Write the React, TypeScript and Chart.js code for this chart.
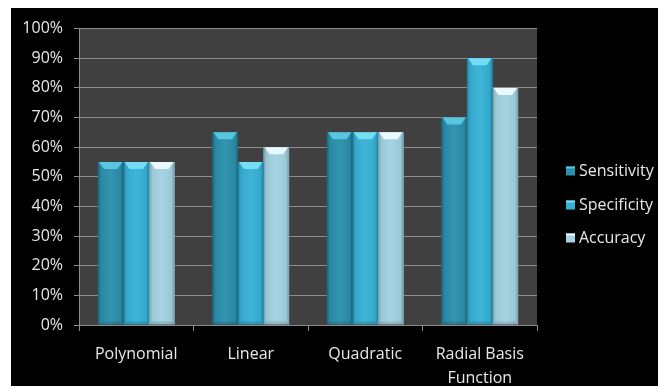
import React, { useEffect, useRef } from "react";
import { Chart, registerables } from "chart.js";

Chart.register(...registerables);

const categories: (string | string[])[] = ["Polynomial", "Linear", "Quadratic", ["Radial Basis", "Function"]];
const sensitivity = [55, 65, 65, 70];
const specificity = [55, 55, 65, 90];
const accuracy = [55, 60, 65, 80];
const seriesNames = ["Sensitivity", "Specificity", "Accuracy"];
const yTicks = [0, 10, 20, 30, 40, 50, 60, 70, 80, 90, 100];

const bodyColors = ["#2b90ad", "#36b1d6", "#a3d2e2"];
const bevelColors = ["#58c6e0", "#74dcf3", "#eaf9fd"];
const edgeColors = ["#1d6a80", "#2789a8", "#7eaec0"];

const FONT = "'Open Sans', 'Noto Sans', sans-serif";
const TEXT = "#e8e8e8";

const plotBg = {
  id: "plotBg",
  beforeDraw(chart: any) {
    const { ctx, chartArea } = chart;
    if (!chartArea) return;
    ctx.save();
    ctx.fillStyle = "#404040";
    ctx.fillRect(chartArea.left, chartArea.top, chartArea.right - chartArea.left, chartArea.bottom - chartArea.top);
    ctx.restore();
  },
};

const barShade = {
  id: "barShade",
  afterDatasetDraw(chart: any, args: any) {
    const { ctx } = chart;
    const idx = args.index;
    const meta = args.meta;
    ctx.save();
    meta.data.forEach((bar: any) => {
      const w = bar.width;
      const l = bar.x - w / 2;
      const r = bar.x + w / 2;
      const t = bar.y;
      const b = bar.base;
      const g = ctx.createLinearGradient(l, 0, r, 0);
      g.addColorStop(0, "rgba(0,0,0,0.28)");
      g.addColorStop(0.12, "rgba(0,0,0,0.05)");
      g.addColorStop(0.5, "rgba(255,255,255,0.04)");
      g.addColorStop(0.88, "rgba(0,0,0,0.05)");
      g.addColorStop(1, "rgba(0,0,0,0.28)");
      ctx.fillStyle = g;
      ctx.fillRect(l, t, w, b - t);
      ctx.fillStyle = edgeColors[idx];
      ctx.fillRect(l, t, 1, b - t);
      ctx.fillRect(r - 1, t, 1, b - t);
      const bh = 7;
      const inset = 6;
      ctx.fillStyle = bevelColors[idx];
      ctx.beginPath();
      ctx.moveTo(l + 1, t);
      ctx.lineTo(r - 1, t);
      ctx.lineTo(r - inset, t + bh);
      ctx.lineTo(l + inset, t + bh);
      ctx.closePath();
      ctx.fill();
      ctx.fillStyle = "rgba(0,0,0,0.12)";
      ctx.beginPath();
      ctx.moveTo(l + 1, b);
      ctx.lineTo(r - 1, b);
      ctx.lineTo(r - 3, b - 3);
      ctx.lineTo(l + 3, b - 3);
      ctx.closePath();
      ctx.fill();
    });
    ctx.restore();
  },
};

const sideLegend = {
  id: "sideLegend",
  afterDraw(chart: any) {
    const { ctx } = chart;
    const x0 = 555;
    const y0 = 163;
    const step = 33.5;
    ctx.save();
    ctx.font = `16px ${FONT}`;
    ctx.textBaseline = "middle";
    ctx.textAlign = "left";
    chart.data.datasets.forEach((ds: any, i: number) => {
      const cy = Math.round(y0 + i * step);
      ctx.fillStyle = bodyColors[i];
      ctx.fillRect(x0, cy - 4.5, 9, 9);
      ctx.fillStyle = bevelColors[i];
      ctx.fillRect(x0, cy - 4.5, 9, 2);
      ctx.fillStyle = TEXT;
      ctx.fillText(ds.label, x0 + 13, cy);
    });
    ctx.restore();
  },
};

export default function App() {
  const canvasRef = useRef<HTMLCanvasElement | null>(null);

  useEffect(() => {
    if (!canvasRef.current) return;
    const data = [sensitivity, specificity, accuracy];
    const chart = new Chart(canvasRef.current, {
      type: "bar",
      data: {
        labels: categories as any,
        datasets: seriesNames.map((name, i) => ({
          label: name,
          data: data[i],
          backgroundColor: bodyColors[i],
          borderWidth: 0,
          barPercentage: 1,
          categoryPercentage: 0.67,
        })),
      },
      options: {
        animation: false,
        responsive: true,
        maintainAspectRatio: false,
        layout: { padding: { top: 14, bottom: 0, left: 0, right: 123 } },
        plugins: {
          tooltip: { enabled: false },
          legend: { display: false },
        },
        scales: {
          x: {
            grid: {
              display: true,
              drawOnChartArea: false,
              drawTicks: true,
              tickLength: 6,
              color: "#8c8c8c",
              offset: true,
            },
            border: { display: true, color: "#8c8c8c", width: 1 },
            ticks: {
              color: TEXT,
              padding: 11,
              maxRotation: 0,
              autoSkip: false,
              font: { family: FONT, size: 16, lineHeight: 1.5 },
            },
            afterFit(scale: any) {
              scale.height = 61;
            },
          },
          y: {
            min: 0,
            max: 100,
            afterBuildTicks(scale: any) {
              scale.ticks = yTicks.map((v) => ({ value: v }));
            },
            grid: {
              color: "#8c8c8c",
              tickLength: 5,
              drawTicks: true,
            },
            border: { display: true, color: "#8c8c8c", width: 1 },
            ticks: {
              color: TEXT,
              padding: 11,
              font: { family: FONT, size: 16 },
              callback: (v: any) => v + "%",
            },
            afterFit(scale: any) {
              scale.width = 68;
            },
          },
        },
      },
      plugins: [plotBg, barShade, sideLegend],
    });
    return () => chart.destroy();
  }, []);

  return (
    <div style={{ marginLeft: 3, width: 649, height: 378, background: "#000", position: "relative" }}>
      <canvas ref={canvasRef} />
    </div>
  );
}
